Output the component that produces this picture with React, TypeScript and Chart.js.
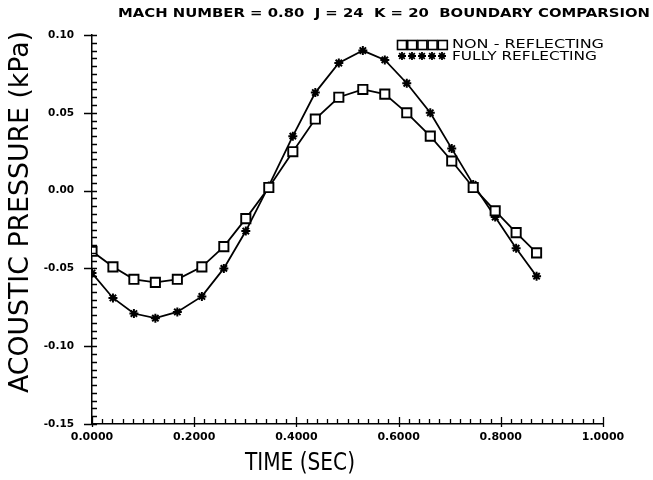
import { useEffect, useRef } from "react";
import { Chart, registerables } from "chart.js";

Chart.register(...registerables);

const CHART_TITLE = "MACH NUMBER = 0.80  J = 24  K = 20  BOUNDARY COMPARSION";
const X_TITLE = "TIME (SEC)";
const Y_TITLE = "ACOUSTIC PRESSURE (kPa)";
const SERIES_NAMES = ["NON - REFLECTING", "FULLY REFLECTING"];

const times = [0.0, 0.041, 0.082, 0.124, 0.167, 0.215, 0.258, 0.301, 0.346, 0.393, 0.437, 0.483, 0.53, 0.573, 0.616, 0.662, 0.704, 0.746, 0.789, 0.83, 0.87];
const nonReflecting = [-0.039, -0.049, -0.057, -0.059, -0.057, -0.049, -0.036, -0.018, 0.002, 0.025, 0.046, 0.06, 0.065, 0.062, 0.05, 0.035, 0.019, 0.002, -0.013, -0.027, -0.04];
const fullyReflecting = [-0.053, -0.069, -0.079, -0.082, -0.078, -0.068, -0.05, -0.026, 0.003, 0.035, 0.063, 0.082, 0.09, 0.084, 0.069, 0.05, 0.027, 0.004, -0.017, -0.037, -0.055];

const X_MIN = 0, X_MAX = 1, X_STEP = 0.2, X_MINOR = 0.02;
const Y_MIN = -0.15, Y_MAX = 0.1, Y_STEP = 0.05, Y_MINOR = 0.005;

function fitText(ctx: CanvasRenderingContext2D, text: string, cx: number, cy: number, width: number, font: string, rotate = 0) {
  ctx.save();
  ctx.font = font;
  const w = ctx.measureText(text).width;
  ctx.translate(cx, cy);
  if (rotate) ctx.rotate(rotate);
  ctx.scale(width / w, 1);
  ctx.textAlign = "center";
  ctx.textBaseline = "middle";
  ctx.fillStyle = "#000";
  ctx.fillText(text, 0, 0);
  ctx.restore();
}

export default function App() {
  const ref = useRef<HTMLCanvasElement>(null);

  useEffect(() => {
    if (!ref.current) return;

    const decor = {
      id: "decor",
      afterDraw(chart: any) {
        const ctx: CanvasRenderingContext2D = chart.ctx;
        const xs = chart.scales.x;
        const ys = chart.scales.y;
        ctx.save();
        ctx.strokeStyle = "#000";
        ctx.lineWidth = 1.3;
        ctx.beginPath();
        const ny = Math.round((Y_MAX - Y_MIN) / Y_MINOR);
        const perMajorY = Math.round(Y_STEP / Y_MINOR);
        for (let i = 0; i <= ny; i++) {
          const py = Math.round(ys.getPixelForValue(Y_MIN + i * Y_MINOR)) + 0.5;
          const major = i % perMajorY === 0;
          ctx.moveTo(xs.left - (major ? 8 : 0), py);
          ctx.lineTo(xs.left + 5, py);
        }
        const nx = Math.round((X_MAX - X_MIN) / X_MINOR);
        const perMajorX = Math.round(X_STEP / X_MINOR);
        for (let i = 0; i <= nx; i++) {
          const px = Math.round(xs.getPixelForValue(X_MIN + i * X_MINOR)) + 0.5;
          const major = i % perMajorX === 0;
          ctx.moveTo(px, ys.bottom + (major ? 3 : 0));
          ctx.lineTo(px, ys.bottom - (major ? 7 : 5));
        }
        ctx.stroke();
        ctx.restore();

        fitText(ctx, CHART_TITLE, 384, 14, 532, "bold 12px 'DejaVu Sans'");
        fitText(ctx, X_TITLE, 300, 464, 110, "24px 'DejaVu Sans'");
        fitText(ctx, Y_TITLE, 21, 212, 362, "27px 'DejaVu Sans'", -Math.PI / 2);

        // legend
        ctx.save();
        ctx.strokeStyle = "#000";
        ctx.lineWidth = 1.6;
        for (let k = 0; k < 5; k++) {
          const cx = 402 + k * 10.2;
          ctx.strokeRect(cx - 4.5, 45 - 4.5, 9, 9);
        }
        ctx.lineWidth = 1.8;
        for (let k = 0; k < 5; k++) {
          const cx = 402 + k * 10;
          const cy = 56;
          ctx.beginPath();
          for (let a = 0; a < 4; a++) {
            const ang = (a * Math.PI) / 4;
            ctx.moveTo(cx - Math.cos(ang) * 4, cy - Math.sin(ang) * 4);
            ctx.lineTo(cx + Math.cos(ang) * 4, cy + Math.sin(ang) * 4);
          }
          ctx.stroke();
        }
        ctx.restore();
        ctx.save();
        ctx.font = "13px 'DejaVu Sans'";
        ctx.textBaseline = "middle";
        ctx.textAlign = "left";
        ctx.fillStyle = "#000";
        const w1 = ctx.measureText(SERIES_NAMES[0]).width;
        ctx.save(); ctx.translate(452, 45); ctx.scale(152 / w1, 1); ctx.fillText(SERIES_NAMES[0], 0, 0); ctx.restore();
        const w2 = ctx.measureText(SERIES_NAMES[1]).width;
        ctx.save(); ctx.translate(452, 57); ctx.scale(145 / w2, 1); ctx.fillText(SERIES_NAMES[1], 0, 0); ctx.restore();
        ctx.restore();
      },
    };

    const chart = new Chart(ref.current, {
      type: "line",
      data: {
        datasets: [
          {
            label: SERIES_NAMES[0],
            data: times.map((t, i) => ({ x: t, y: nonReflecting[i] })),
            borderColor: "#000",
            borderWidth: 1.8,
            pointStyle: "rect",
            pointRadius: 6.5,
            pointBorderWidth: 1.9,
            pointBackgroundColor: "#fff",
            pointBorderColor: "#000",
            tension: 0,
            fill: false,
          },
          {
            label: SERIES_NAMES[1],
            data: times.map((t, i) => ({ x: t, y: fullyReflecting[i] })),
            borderColor: "#000",
            borderWidth: 1.8,
            pointStyle: "star",
            pointRadius: 4.5,
            pointBorderWidth: 2,
            pointBorderColor: "#000",
            tension: 0,
            fill: false,
          },
        ],
      },
      options: {
        animation: false,
        responsive: true,
        maintainAspectRatio: false,
        layout: { padding: { top: 35, right: 50, bottom: 0, left: 0 } },
        plugins: { legend: { display: false }, title: { display: false }, tooltip: { enabled: false } },
        scales: {
          x: {
            type: "linear",
            min: X_MIN,
            max: X_MAX,
            grid: { display: false, drawTicks: false },
            border: { display: true, color: "#000", width: 1.5 },
            ticks: {
              stepSize: X_STEP,
              padding: 7,
              color: "#000",
              font: { family: "'DejaVu Sans'", size: 11, weight: "bold" },
              callback: (v: any) => Number(v).toFixed(4),
            },
            afterFit: (s: any) => { s.height = 56; },
          },
          y: {
            type: "linear",
            min: Y_MIN,
            max: Y_MAX,
            grid: { display: false, drawTicks: false },
            border: { display: true, color: "#000", width: 1.5 },
            ticks: {
              stepSize: Y_STEP,
              padding: 18,
              color: "#000",
              font: { family: "'DejaVu Sans'", size: 10.5, weight: "bold" },
              callback: (v: any) => (Math.abs(Number(v)) < 1e-9 ? 0 : Number(v)).toFixed(2),
            },
            afterFit: (s: any) => { s.width = 92; },
          },
        },
      },
      plugins: [decor],
    } as any);

    return () => chart.destroy();
  }, []);

  return (
    <div style={{ position: "absolute", left: 0, top: 0, width: 653, height: 480, background: "#fff" }}>
      <canvas ref={ref} />
    </div>
  );
}
